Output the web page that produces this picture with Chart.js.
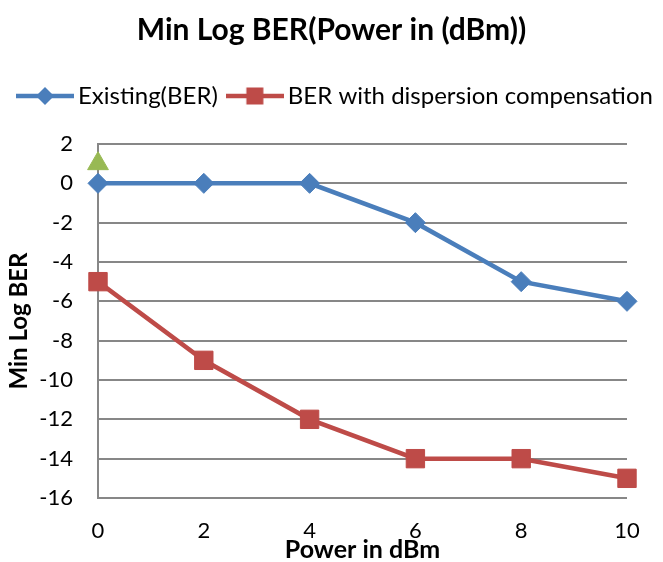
<!DOCTYPE html>
<html><head><meta charset="utf-8">
<script src="https://cdn.jsdelivr.net/npm/chart.js@4.4.0/dist/chart.umd.min.js"></script>
<style>html,body{margin:0;padding:0;background:#fff}#wrap{width:663px;height:562px}</style>
</head><body><div id="wrap"><canvas id="c" width="663" height="562"></canvas></div>
<script>
const categories = ['0','2','4','6','8','10'];
const existingBER = [0, 0, 0, -2, -5, -6];
const compensatedBER = [-5, -9, -12, -14, -14, -15];
const markerSeries = [1, null, null, null, null, null];
const seriesNames = ['Existing(BER)', 'BER with dispersion compensation'];

const FONT = 'Lato, "Open Sans", sans-serif';
const BLUE = '#4A7EBB', RED = '#BE4B48', GREEN = '#98B954', GRID = '#878787';
function legendIcon(color, shape){
  const c = document.createElement('canvas'); c.width = 58; c.height = 22;
  const g = c.getContext('2d');
  g.strokeStyle = color; g.lineWidth = 4.5;
  g.beginPath(); g.moveTo(0,11); g.lineTo(58,11); g.stroke();
  g.fillStyle = color;
  if (shape === 'diamond'){ g.beginPath(); g.moveTo(29,2); g.lineTo(38,11); g.lineTo(29,20); g.lineTo(20,11); g.closePath(); g.fill(); }
  else { g.fillRect(20.5,2.5,17,17); }
  return c;
}
const icons = [legendIcon(BLUE,'diamond'), legendIcon(RED,'rect')];

const legendShift = { id:'legendShift', afterLayout(chart){ if (chart.legend) { chart.legend.left += 8; chart.legend.right += 8; } } };

new Chart(document.getElementById('c'), {
  type: 'line',
  data: { labels: categories, datasets: [
    { label: seriesNames[0], data: existingBER, borderColor:BLUE, backgroundColor:BLUE, borderWidth:4.5, pointStyle:'rectRot', pointRadius:10, pointHoverRadius:10, pointBorderWidth:1, tension:0 },
    { label: seriesNames[1], data: compensatedBER, borderColor:RED, backgroundColor:RED, borderWidth:4.5, pointStyle:'rect', pointRadius:13, pointHoverRadius:13, pointBorderWidth:1, tension:0 },
    { label: 'marker', data: markerSeries, borderColor:GREEN, backgroundColor:GREEN, showLine:false, pointStyle:'triangle', pointRadius:12, pointHoverRadius:12, pointBorderWidth:1 }
  ]},
  plugins:[legendShift],
  options: {
    responsive:false, animation:false, devicePixelRatio:1,
    layout:{ padding:{ left:0, right:0, top:0, bottom:0 } },
    plugins:{
      title:{ display:true, text:'Min Log BER(Power in (dBm))', color:'#000', font:{ family:FONT, size:30, weight:'bold', lineHeight:1.2 }, padding:{ top:12, bottom:20 } },
      subtitle:{ display:true, text:' ', weight:500, font:{ size:10, lineHeight:1 }, padding:{ top:16, bottom:0 } },
      legend:{ position:'top', align:'start', labels:{ color:'#000', font:{ family:FONT, size:24 }, usePointStyle:true, pointStyleWidth:42, boxHeight:22, padding:16,
        generateLabels:(chart)=> chart.data.datasets.slice(0,2).map((d,i)=>({ text:d.label, datasetIndex:i, pointStyle:icons[i], fillStyle:d.borderColor, strokeStyle:d.borderColor, lineWidth:0, fontColor:'#000', hidden:false })) } },
      tooltip:{ enabled:false }
    },
    scales:{
      x:{ offset:false, grid:{ display:false, drawTicks:false }, border:{ display:false },
        afterFit:(s)=>{ s.height = 64; },
        ticks:{ color:'#000', font:{ family:FONT, size:22 }, padding:20, maxRotation:0 },
        title:{ display:true, text:'Power in dBm', color:'#000', font:{ family:FONT, size:25, weight:'bold', lineHeight:1 }, padding:{ top:0, bottom:0 } } },
      y:{ min:-16, max:2, afterFit:(s)=>{ s.width = 98; },
        grid:{ color:GRID, lineWidth:2, drawTicks:false }, border:{ display:true, color:GRID, width:2 },
        ticks:{ stepSize:2, color:'#000', font:{ family:FONT, size:22 }, padding:25 },
        title:{ display:true, text:'Min Log BER', color:'#000', font:{ family:FONT, size:24, weight:'bold', lineHeight:1 }, padding:{ top:7, bottom:0 } } },
      y2:{ position:'right', display:true, min:-16, max:2, afterFit:(s)=>{ s.width = 36; },
        grid:{ display:false, drawTicks:false }, border:{ display:false }, ticks:{ display:false } }
    }
  }
});
</script></body></html>
